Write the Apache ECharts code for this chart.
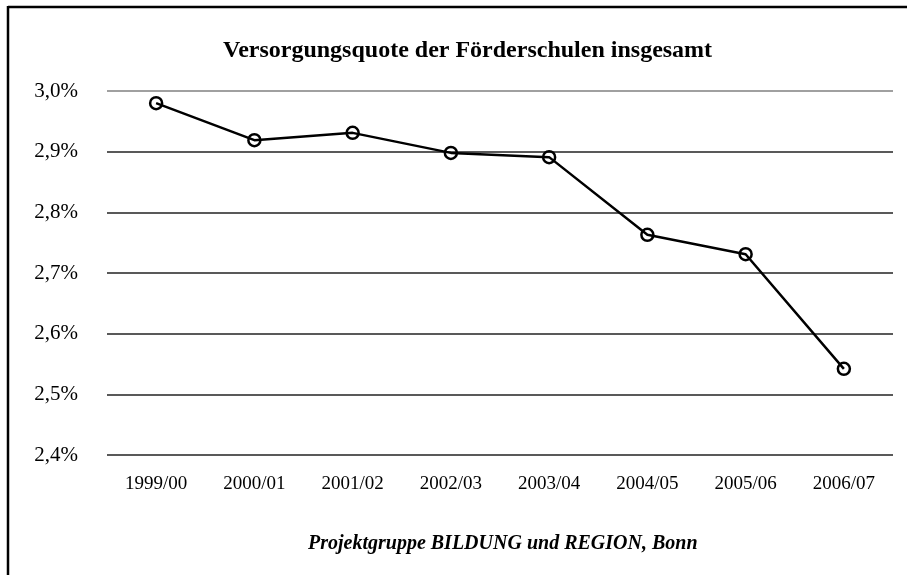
<!DOCTYPE html>
<html><head><meta charset="utf-8">
<script src="https://cdn.jsdelivr.net/npm/echarts@6/dist/echarts.min.js"></script>
<style>html,body{margin:0;padding:0;background:#fff}#c{width:907px;height:575px}</style>
</head><body><div id="c"></div>
<script>
const categories = ['1999/00','2000/01','2001/02','2002/03','2003/04','2004/05','2005/06','2006/07'];
const values = [2.980, 2.919, 2.931, 2.898, 2.891, 2.763, 2.731, 2.542];
const yTicks = [2.4, 2.5, 2.6, 2.7, 2.8, 2.9, 3.0];
const titleText = 'Versorgungsquote der Förderschulen insgesamt';
const footerText = 'Projektgruppe BILDUNG und REGION, Bonn';
const serif = '"Liberation Serif","DejaVu Serif",serif';
const chart = echarts.init(document.getElementById('c'));
chart.setOption({
  animation: false,
  backgroundColor: '#fff',
  graphic: [
    {type:'line', shape:{x1:8,y1:7,x2:907,y2:7}, style:{stroke:'#000',lineWidth:2.5}},
    {type:'line', shape:{x1:8,y1:6,x2:8,y2:575}, style:{stroke:'#000',lineWidth:2.5}}
  ],
  title: [
    {text: titleText, left: 218, top: 34, textStyle:{fontFamily:serif, fontWeight:'bold', fontSize:24, color:'#000'}},
    {text: footerText, left: 303, top: 529, textStyle:{fontFamily:serif, fontWeight:'bold', fontStyle:'italic', fontSize:20, color:'#000'}}
  ],
  grid: {left: 107, right: 14, top: 91, bottom: 120},
  xAxis: {
    type: 'category', data: categories, boundaryGap: true,
    axisLine:{show:false}, axisTick:{show:false},
    axisLabel:{fontFamily:serif, fontSize:19, color:'#000', margin:20}
  },
  yAxis: {
    type: 'value', min: 2.4, max: 3.0, interval: 0.1,
    axisLine:{show:false}, axisTick:{show:false},
    axisLabel:{fontFamily:serif, fontSize:21, color:'#000', margin:29,
      formatter: v => { const t = yTicks.find(x => Math.abs(x - v) < 1e-6); return (t !== undefined ? t : v).toFixed(1).replace('.', ',') + '%'; }},
    splitLine:{lineStyle:{color:['#222','#222','#222','#222','#222','#222','#808080'], width:1.5}}
  },
  series: [{
    type: 'line', data: values,
    symbol: 'circle', symbolSize: 12,
    lineStyle:{color:'#000', width:2.5},
    itemStyle:{color:'rgba(0,0,0,0)', borderColor:'#000', borderWidth:2.5}
  }]
});
</script></body></html>
